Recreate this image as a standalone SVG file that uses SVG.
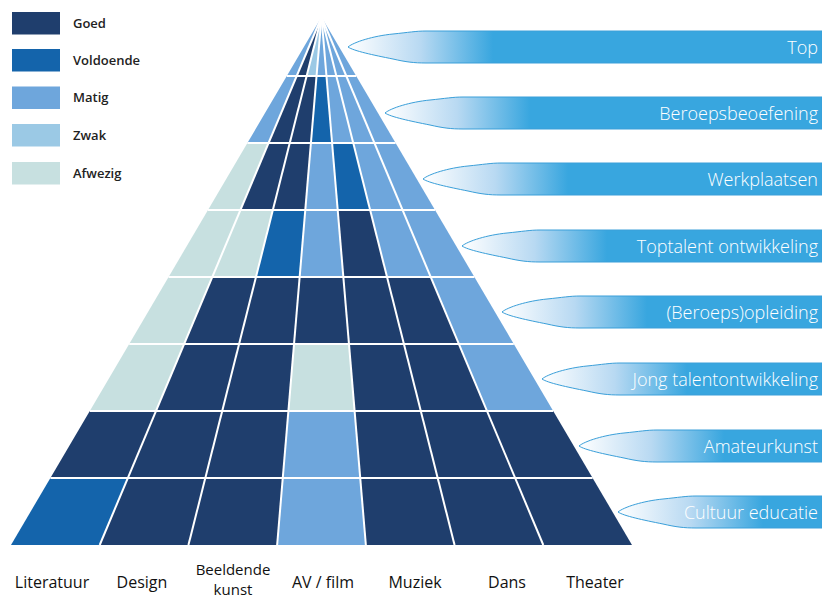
<svg xmlns="http://www.w3.org/2000/svg" xmlns:xlink="http://www.w3.org/1999/xlink" width="822" height="599" viewBox="0 0 822 599">
<style>
.g{fill:#1f3e6d}
.v{fill:#1464ab}
.m{fill:#6ea6dc}
.z{fill:#9bc9e5}
.a{fill:#c7e0e0}
.grid{stroke:#ffffff;stroke-width:2;fill:none}
.leg{font-family:"Open Sans","Liberation Sans",sans-serif;font-size:13px;font-weight:600;fill:#222222}
.ban{fill:url(#bg);stroke:#3a9fd9;stroke-width:1}
.bt{font-family:"Open Sans","Liberation Sans",sans-serif;font-weight:300;font-size:18px;fill:#ffffff;text-anchor:end}
.col{font-family:"Open Sans","Liberation Sans",sans-serif;font-size:16px;font-weight:500;fill:#111111;text-anchor:middle}
.col2{font-size:15px}
</style>
<defs>
<linearGradient id="bg" gradientUnits="userSpaceOnUse" x1="0" y1="0" x2="145" y2="0">
<stop offset="0" stop-color="#ffffff"/>
<stop offset="0.5" stop-color="#b8d9f2"/>
<stop offset="1" stop-color="#38a6df"/>
</linearGradient>
</defs>
<rect width="822" height="599" fill="#ffffff"/>

<g id="legend">
<g id="leg-goed"><rect class="g" x="12" y="12" width="48" height="22.5"/><text class="leg" x="73" y="27.5">Goed</text></g>
<g id="leg-voldoende"><rect class="v" x="12" y="49" width="48" height="22.5"/><text class="leg" x="73" y="64.5">Voldoende</text></g>
<g id="leg-matig"><rect class="m" x="12" y="86.5" width="48" height="22.5"/><text class="leg" x="73" y="102">Matig</text></g>
<g id="leg-zwak"><rect class="z" x="12" y="124" width="48" height="22.5"/><text class="leg" x="73" y="139.5">Zwak</text></g>
<g id="leg-afwezig"><rect class="a" x="12" y="162" width="48" height="22.5"/><text class="leg" x="73" y="177.5">Afwezig</text></g>
</g>

<g id="pyramid">
<g id="row-top">
<polygon class="m" points="321.5,17 296.71,76 286.80,76"/>
<polygon class="g" points="321.5,17 306.63,76 296.71,76"/>
<polygon class="z" points="321.5,17 316.54,76 306.63,76"/>
<polygon class="m" points="321.5,17 326.46,76 316.54,76"/>
<polygon class="m" points="321.5,17 336.37,76 326.46,76"/>
<polygon class="m" points="321.5,17 346.29,76 336.37,76"/>
<polygon class="m" points="321.5,17 356.20,76 346.29,76"/>
</g>
<g id="row-beroepsbeoefening">
<polygon class="m" points="286.80,76 296.71,76 268.57,143 247.40,143"/>
<polygon class="g" points="296.71,76 306.63,76 289.74,143 268.57,143"/>
<polygon class="g" points="306.63,76 316.54,76 310.91,143 289.74,143"/>
<polygon class="v" points="316.54,76 326.46,76 332.09,143 310.91,143"/>
<polygon class="m" points="326.46,76 336.37,76 353.26,143 332.09,143"/>
<polygon class="m" points="336.37,76 346.29,76 374.43,143 353.26,143"/>
<polygon class="m" points="346.29,76 356.20,76 395.60,143 374.43,143"/>
</g>
<g id="row-werkplaatsen">
<polygon class="a" points="247.40,143 268.57,143 240.43,210 208.00,210"/>
<polygon class="g" points="268.57,143 289.74,143 272.86,210 240.43,210"/>
<polygon class="g" points="289.74,143 310.91,143 305.29,210 272.86,210"/>
<polygon class="m" points="310.91,143 332.09,143 337.71,210 305.29,210"/>
<polygon class="v" points="332.09,143 353.26,143 370.14,210 337.71,210"/>
<polygon class="m" points="353.26,143 374.43,143 402.57,210 370.14,210"/>
<polygon class="m" points="374.43,143 395.60,143 435.00,210 402.57,210"/>
</g>
<g id="row-toptalent">
<polygon class="a" points="208.00,210 240.43,210 212.29,277 168.60,277"/>
<polygon class="a" points="240.43,210 272.86,210 255.97,277 212.29,277"/>
<polygon class="v" points="272.86,210 305.29,210 299.66,277 255.97,277"/>
<polygon class="m" points="305.29,210 337.71,210 343.34,277 299.66,277"/>
<polygon class="g" points="337.71,210 370.14,210 387.03,277 343.34,277"/>
<polygon class="m" points="370.14,210 402.57,210 430.71,277 387.03,277"/>
<polygon class="m" points="402.57,210 435.00,210 474.40,277 430.71,277"/>
</g>
<g id="row-opleiding">
<polygon class="a" points="168.60,277 212.29,277 184.14,344 129.20,344"/>
<polygon class="g" points="212.29,277 255.97,277 239.09,344 184.14,344"/>
<polygon class="g" points="255.97,277 299.66,277 294.03,344 239.09,344"/>
<polygon class="g" points="299.66,277 343.34,277 348.97,344 294.03,344"/>
<polygon class="g" points="343.34,277 387.03,277 403.91,344 348.97,344"/>
<polygon class="g" points="387.03,277 430.71,277 458.86,344 403.91,344"/>
<polygon class="m" points="430.71,277 474.40,277 513.80,344 458.86,344"/>
</g>
<g id="row-jongtalent">
<polygon class="a" points="129.20,344 184.14,344 156.00,411 89.80,411"/>
<polygon class="g" points="184.14,344 239.09,344 222.20,411 156.00,411"/>
<polygon class="g" points="239.09,344 294.03,344 288.40,411 222.20,411"/>
<polygon class="a" points="294.03,344 348.97,344 354.60,411 288.40,411"/>
<polygon class="g" points="348.97,344 403.91,344 420.80,411 354.60,411"/>
<polygon class="g" points="403.91,344 458.86,344 487.00,411 420.80,411"/>
<polygon class="m" points="458.86,344 513.80,344 553.20,411 487.00,411"/>
</g>
<g id="row-amateurkunst">
<polygon class="g" points="89.80,411 156.00,411 127.86,478 50.40,478"/>
<polygon class="g" points="156.00,411 222.20,411 205.31,478 127.86,478"/>
<polygon class="g" points="222.20,411 288.40,411 282.77,478 205.31,478"/>
<polygon class="m" points="288.40,411 354.60,411 360.23,478 282.77,478"/>
<polygon class="g" points="354.60,411 420.80,411 437.69,478 360.23,478"/>
<polygon class="g" points="420.80,411 487.00,411 515.14,478 437.69,478"/>
<polygon class="g" points="487.00,411 553.20,411 592.60,478 515.14,478"/>
</g>
<g id="row-cultuureducatie">
<polygon class="v" points="50.40,478 127.86,478 99.71,545 11.00,545"/>
<polygon class="g" points="127.86,478 205.31,478 188.43,545 99.71,545"/>
<polygon class="g" points="205.31,478 282.77,478 277.14,545 188.43,545"/>
<polygon class="m" points="282.77,478 360.23,478 365.86,545 277.14,545"/>
<polygon class="g" points="360.23,478 437.69,478 454.57,545 365.86,545"/>
<polygon class="g" points="437.69,478 515.14,478 543.29,545 454.57,545"/>
<polygon class="g" points="515.14,478 592.60,478 632.00,545 543.29,545"/>
</g>
<g id="gridlines" class="grid">
<line x1="321.5" y1="17" x2="99.71" y2="545"/>
<line x1="321.5" y1="17" x2="188.43" y2="545"/>
<line x1="321.5" y1="17" x2="277.14" y2="545"/>
<line x1="321.5" y1="17" x2="365.86" y2="545"/>
<line x1="321.5" y1="17" x2="454.57" y2="545"/>
<line x1="321.5" y1="17" x2="543.29" y2="545"/>
<line x1="286.80" y1="76" x2="356.20" y2="76"/>
<line x1="247.40" y1="143" x2="395.60" y2="143"/>
<line x1="208.00" y1="210" x2="435.00" y2="210"/>
<line x1="168.60" y1="277" x2="474.40" y2="277"/>
<line x1="129.20" y1="344" x2="513.80" y2="344"/>
<line x1="89.80" y1="411" x2="553.20" y2="411"/>
<line x1="50.40" y1="478" x2="592.60" y2="478"/>
</g>
</g>

<g id="banners">
<g id="banner-top" transform="translate(348,47)">
<path class="ban" d="M0,0 C6,-5 25,-11 45,-13 C60,-14.5 68,-16 78,-16 H474 V16 H78 C66,16 58,15 45,12 C25,8 6,4 0,0 Z"/>
<text class="bt" x="470" y="6.5">Top</text>
</g>
<g id="banner-beroepsbeoefening" transform="translate(385,113)">
<path class="ban" d="M0,0 C6,-5 25,-11 45,-13 C60,-14.5 68,-16 78,-16 H437 V16 H78 C66,16 58,15 45,12 C25,8 6,4 0,0 Z"/>
<text class="bt" x="433" y="6.5">Beroepsbeoefening</text>
</g>
<g id="banner-werkplaatsen" transform="translate(423,179)">
<path class="ban" d="M0,0 C6,-5 25,-11 45,-13 C60,-14.5 68,-16 78,-16 H399 V16 H78 C66,16 58,15 45,12 C25,8 6,4 0,0 Z"/>
<text class="bt" x="395" y="6.5">Werkplaatsen</text>
</g>
<g id="banner-toptalent" transform="translate(462,246)">
<path class="ban" d="M0,0 C6,-5 25,-11 45,-13 C60,-14.5 68,-16 78,-16 H360 V16 H78 C66,16 58,15 45,12 C25,8 6,4 0,0 Z"/>
<text class="bt" x="356" y="6.5">Toptalent ontwikkeling</text>
</g>
<g id="banner-opleiding" transform="translate(502,312)">
<path class="ban" d="M0,0 C6,-5 25,-11 45,-13 C60,-14.5 68,-16 78,-16 H320 V16 H78 C66,16 58,15 45,12 C25,8 6,4 0,0 Z"/>
<text class="bt" x="316" y="6.5">(Beroeps)opleiding</text>
</g>
<g id="banner-jongtalent" transform="translate(542,379)">
<path class="ban" d="M0,0 C6,-5 25,-11 45,-13 C60,-14.5 68,-16 78,-16 H280 V16 H78 C66,16 58,15 45,12 C25,8 6,4 0,0 Z"/>
<text class="bt" x="276" y="6.5">Jong talentontwikkeling</text>
</g>
<g id="banner-amateurkunst" transform="translate(579,446)">
<path class="ban" d="M0,0 C6,-5 25,-11 45,-13 C60,-14.5 68,-16 78,-16 H243 V16 H78 C66,16 58,15 45,12 C25,8 6,4 0,0 Z"/>
<text class="bt" x="239" y="6.5">Amateurkunst</text>
</g>
<g id="banner-cultuureducatie" transform="translate(618,512)">
<path class="ban" d="M0,0 C6,-5 25,-11 45,-13 C60,-14.5 68,-16 78,-16 H204 V16 H78 C66,16 58,15 45,12 C25,8 6,4 0,0 Z"/>
<text class="bt" x="200" y="6.5">Cultuur educatie</text>
</g>
</g>

<g id="column-labels">
<text class="col" x="52" y="588">Literatuur</text>
<text class="col" x="142" y="588">Design</text>
<text class="col col2" x="233" y="575">Beeldende</text>
<text class="col col2" x="233" y="595">kunst</text>
<text class="col" x="323" y="588">AV / film</text>
<text class="col" x="415" y="588">Muziek</text>
<text class="col" x="507" y="588">Dans</text>
<text class="col" x="595" y="588">Theater</text>
</g>
</svg>
